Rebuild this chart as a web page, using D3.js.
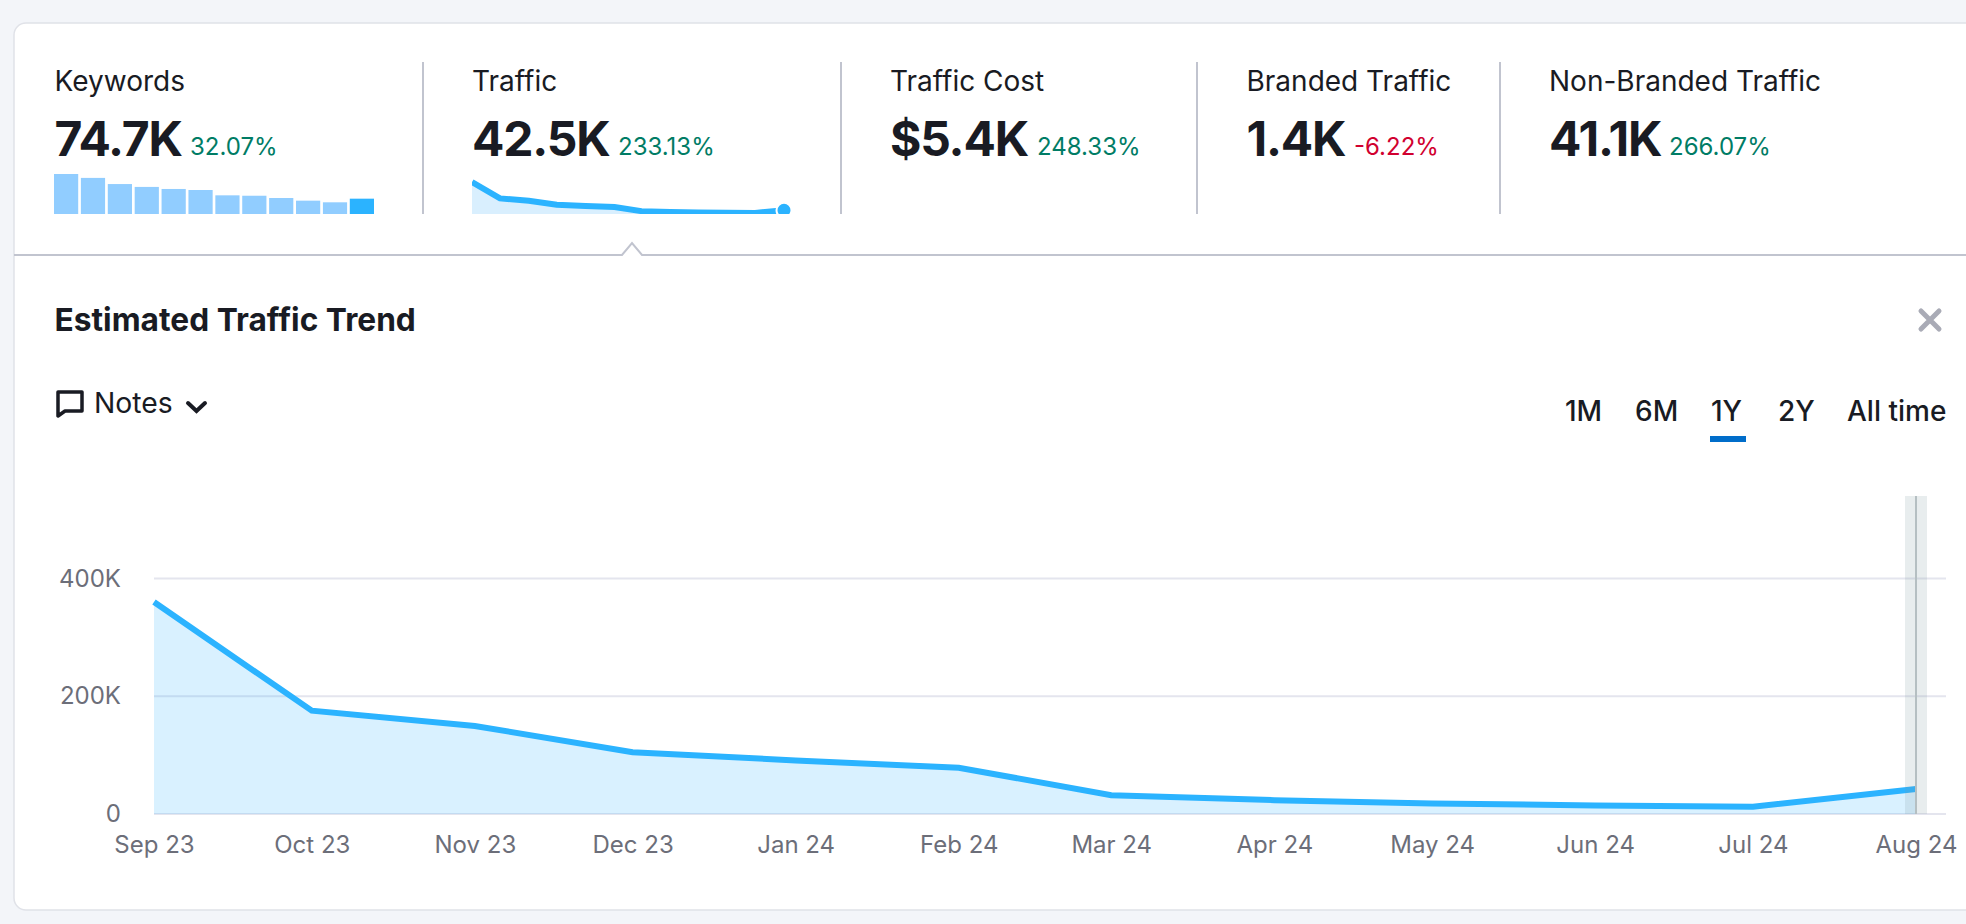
<!DOCTYPE html>
<html lang="en">
<head>
<meta charset="UTF-8">
<title>Estimated Traffic Trend</title>
<script src="https://d3js.org/d3.v7.min.js"></script>
<style>
  html, body { margin: 0; padding: 0; background: #f3f5f9; overflow: hidden; }
  svg { display: block; }
  text { font-family: Inter, sans-serif; }
</style>
</head>
<body>
<script>
// values
const months = ["2023-09-01", "2023-10-01", "2023-11-01", "2023-12-01", "2024-01-01", "2024-02-01",
  "2024-03-01", "2024-04-01", "2024-05-01", "2024-06-01", "2024-07-01", "2024-08-01"];
const traffic = [360000, 175500, 149500, 105000, 91000, 78500, 32000, 23500, 18000, 14500, 12500, 42500];
const keywordBars = [195, 176, 146, 132, 122, 117, 91, 89, 78, 65, 57, 74.7];
const yTicks = [0, 200000, 400000];

const metricNames = ["Keywords", "Traffic", "Traffic Cost", "Branded Traffic", "Non-Branded Traffic"];
const metricValues = ["74.7K", "42.5K", "$5.4K", "1.4K", "41.1K"];
const metricChanges = ["32.07%", "233.13%", "248.33%", "-6.22%", "266.07%"];
const metricX = [54.5, 472, 890, 1246.5, 1549];
const changeX = [190, 618, 1037, 1354, 1669];
const dividerX = [423, 841, 1197, 1500];
const rangeLabels = ["1M", "6M", "1Y", "2Y", "All time"];
const rangeX = [1565, 1635, 1711, 1778, 1847];

const width = 1966, height = 924;
const dark = "#191b23", grey = "#6c6e79", blue = "#2bb3ff", areaBlue = "#d9effe";

const dates = months.map(d => new Date(d + "T00:00:00Z"));
const points = dates.map((d, i) => ({ date: d, value: traffic[i] }));

const svg = d3.select("body").append("svg")
  .attr("width", width)
  .attr("height", height);

// card
svg.append("rect")
  .attr("x", 14).attr("y", 23)
  .attr("width", width + 40).attr("height", 887)
  .attr("rx", 12)
  .attr("fill", "#fff")
  .attr("stroke", "#e0e2e8")
  .attr("stroke-width", 1.5);

// metrics row
svg.selectAll(".divider")
  .data(dividerX)
  .enter().append("line")
  .attr("class", "divider")
  .attr("x1", d => d).attr("x2", d => d)
  .attr("y1", 62).attr("y2", 214)
  .attr("stroke", "#c1c4cf")
  .attr("stroke-width", 2);

metricNames.forEach((name, i) => {
  svg.append("text").attr("x", metricX[i]).attr("y", 91)
    .attr("font-size", 28).attr("fill", dark).text(name);
  svg.append("text").attr("x", metricX[i]).attr("y", 155.5)
    .attr("font-size", 48).attr("font-weight", 700).attr("letter-spacing", -1.2)
    .attr("fill", dark).text(metricValues[i]);
  svg.append("text").attr("x", changeX[i]).attr("y", 155)
    .attr("font-size", 24)
    .attr("fill", metricChanges[i].startsWith("-") ? "#d1002f" : "#007c65")
    .text(metricChanges[i]);
});

// keywords sparkbars
const barX = d3.scaleBand().domain(d3.range(keywordBars.length)).range([54, 374]).paddingInner(0.1);
const barY = d3.scaleLinear().domain([0, 195]).range([214, 174]);
svg.selectAll(".spark-bar")
  .data(keywordBars)
  .enter().append("rect")
  .attr("class", "spark-bar")
  .attr("x", (d, i) => barX(i))
  .attr("y", d => barY(d))
  .attr("width", barX.bandwidth())
  .attr("height", d => 214 - barY(d))
  .attr("fill", (d, i) => i === keywordBars.length - 1 ? blue : "#91cdff");

// traffic sparkline
const sparkX = d3.scaleUtc().domain(d3.extent(dates)).range([472, 784]);
const sparkY = d3.scaleLinear().domain([0, 360000]).range([214, 182]);
svg.append("clipPath").attr("id", "spark-clip").append("rect")
  .attr("x", 472).attr("y", 170).attr("width", 330).attr("height", 44);
const spark = svg.append("g").attr("clip-path", "url(#spark-clip)");
spark.append("path").datum(points)
  .attr("fill", areaBlue)
  .attr("d", d3.area().x(d => sparkX(d.date)).y0(214).y1(d => sparkY(d.value)));
spark.append("path").datum(points)
  .attr("fill", "none")
  .attr("stroke", blue)
  .attr("stroke-width", 6)
  .attr("d", d3.line().x(d => sparkX(d.date)).y(d => sparkY(d.value)));
spark.append("circle")
  .attr("cx", sparkX(dates[dates.length - 1]))
  .attr("cy", sparkY(traffic[traffic.length - 1]))
  .attr("r", 7.5)
  .attr("fill", blue)
  .attr("stroke", "#fff")
  .attr("stroke-width", 2);

// separator with caret
svg.append("path")
  .attr("d", "M14,255H622L632,243L642,255H" + width)
  .attr("fill", "#fff")
  .attr("stroke", "#c1c4cf")
  .attr("stroke-width", 2);

// header
svg.append("text").attr("x", 54.5).attr("y", 331)
  .attr("font-size", 31.7).attr("font-weight", 700).attr("fill", dark)
  .text("Estimated Traffic Trend");

svg.append("path")
  .attr("d", "M58,392H82V411H65L58,416Z")
  .attr("fill", "none").attr("stroke", dark).attr("stroke-width", 3.5).attr("stroke-linejoin", "round");
svg.append("text").attr("x", 94).attr("y", 413)
  .attr("font-size", 28.3).attr("fill", dark).text("Notes");
svg.append("path")
  .attr("d", "M188,403L196.5,411L205,403")
  .attr("fill", "none").attr("stroke", dark).attr("stroke-width", 4).attr("stroke-linecap", "round");

svg.append("path")
  .attr("d", "M1921,311L1939,329M1939,311L1921,329")
  .attr("stroke", "#a9abb6").attr("stroke-width", 5).attr("stroke-linecap", "round");

svg.selectAll(".range")
  .data(rangeLabels)
  .enter().append("text")
  .attr("class", "range")
  .attr("x", (d, i) => rangeX[i])
  .attr("y", 421)
  .attr("font-size", 28)
  .attr("font-weight", 500)
  .attr("fill", dark)
  .text(d => d);
svg.append("rect")
  .attr("x", 1710).attr("y", 436).attr("width", 36).attr("height", 6)
  .attr("fill", "#006dca");

// main chart
const x = d3.scaleUtc().domain(d3.extent(dates)).range([154, 1916]);
const y = d3.scaleLinear().domain([0, 400000]).range([814, 578.5]);

svg.append("g")
  .selectAll("line")
  .data(yTicks)
  .enter().append("line")
  .attr("x1", 154).attr("x2", 1946)
  .attr("y1", d => y(d)).attr("y2", d => y(d))
  .attr("stroke", "#e4e5ee")
  .attr("stroke-width", 2);

const yAxis = svg.append("g")
  .attr("transform", "translate(121,0)")
  .call(d3.axisLeft(y).tickValues(yTicks).tickSize(0).tickPadding(0)
    .tickFormat(d => d === 0 ? "0" : d / 1000 + "K"));
yAxis.select(".domain").remove();
yAxis.selectAll("text").attr("font-size", 24).attr("fill", grey).attr("font-family", "Inter, sans-serif");

svg.append("path").datum(points)
  .attr("fill", blue)
  .attr("fill-opacity", 0.18)
  .attr("d", d3.area().x(d => x(d.date)).y0(y(0)).y1(d => y(d.value)));

svg.append("path").datum(points)
  .attr("fill", "none")
  .attr("stroke", blue)
  .attr("stroke-width", 6)
  .attr("d", d3.line().x(d => x(d.date)).y(d => y(d.value)));

const xAxis = svg.append("g")
  .attr("transform", "translate(0,814)")
  .call(d3.axisBottom(x).tickValues(dates).tickSize(0).tickPadding(22)
    .tickFormat(d3.utcFormat("%b %y")));
xAxis.select(".domain").remove();
xAxis.selectAll("text").attr("font-size", 24).attr("fill", grey).attr("font-family", "Inter, sans-serif");

// hover band on the last month
svg.append("rect")
  .attr("x", 1905).attr("y", 496).attr("width", 22).attr("height", 318)
  .attr("fill", "#7f9a9f").attr("fill-opacity", 0.18);
svg.append("line")
  .attr("x1", 1916).attr("x2", 1916).attr("y1", 496).attr("y2", 814)
  .attr("stroke", "#b5bfc2").attr("stroke-width", 2);
</script>
</body>
</html>
